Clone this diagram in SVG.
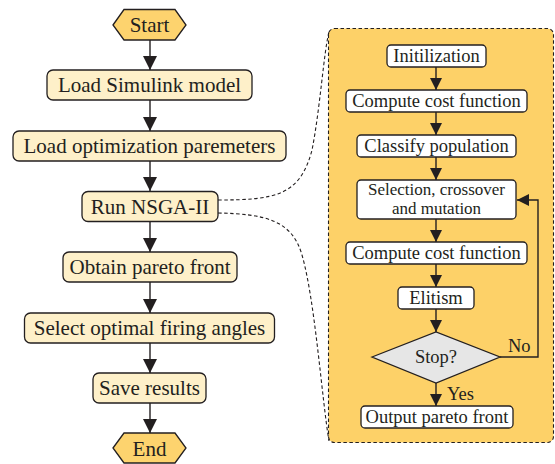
<svg xmlns="http://www.w3.org/2000/svg" width="555" height="464" viewBox="0 0 555 464">
<defs>
<style>
.box{fill:#FEF0C9;stroke:#231F20;stroke-width:1.3}
.wbox{fill:#FFFFFF;stroke:#231F20;stroke-width:1.3}
.hex{fill:#FDD36E;stroke:#231F20;stroke-width:1.3}
.t{font-family:"Liberation Serif","Times New Roman",serif;font-size:21px;fill:#231F20;text-anchor:middle}
.s{font-family:"Liberation Serif","Times New Roman",serif;font-size:18.5px;fill:#231F20;text-anchor:middle}
.s2{font-family:"Liberation Serif","Times New Roman",serif;font-size:17px;fill:#231F20;text-anchor:middle}
.l{font-family:"Liberation Serif","Times New Roman",serif;font-size:18.5px;fill:#231F20}
.ln{stroke:#231F20;stroke-width:1.4;fill:none}
.dash{stroke:#231F20;stroke-width:1.1;fill:none;stroke-dasharray:3.5 2.5}
.panel{fill:#FDD168;stroke:#231F20;stroke-width:1.1;stroke-dasharray:3.5 2.5}
</style>
<marker id="ah" viewBox="0 0 14 14" refX="14" refY="7" markerWidth="14" markerHeight="14" markerUnits="userSpaceOnUse" orient="auto">
<path d="M0,0 L14,7 L0,14 Z" fill="#231F20"/>
</marker>
<marker id="ahs" viewBox="0 0 12 12" refX="12" refY="6" markerWidth="12" markerHeight="12" markerUnits="userSpaceOnUse" orient="auto">
<path d="M0,0 L12,6 L0,12 Z" fill="#231F20"/>
</marker>
</defs>
<rect width="555" height="464" fill="#FFFFFF"/>

<g id="panel">
<rect class="panel" x="328.5" y="28.5" width="225" height="414" rx="6"/>
</g>

<g id="connectors">
<line class="ln" x1="150" y1="40" x2="150" y2="70" marker-end="url(#ah)"/>
<line class="ln" x1="150" y1="100" x2="150" y2="131" marker-end="url(#ah)"/>
<line class="ln" x1="150" y1="161" x2="150" y2="191" marker-end="url(#ah)"/>
<line class="ln" x1="150" y1="222" x2="150" y2="252" marker-end="url(#ah)"/>
<line class="ln" x1="150" y1="282" x2="150" y2="313" marker-end="url(#ah)"/>
<line class="ln" x1="150" y1="343" x2="150" y2="373" marker-end="url(#ah)"/>
<line class="ln" x1="150" y1="403" x2="150" y2="433" marker-end="url(#ah)"/>

<line class="ln" x1="436" y1="67" x2="436" y2="90" marker-end="url(#ahs)"/>
<line class="ln" x1="436" y1="112" x2="436" y2="135" marker-end="url(#ahs)"/>
<line class="ln" x1="436" y1="157" x2="436" y2="180" marker-end="url(#ahs)"/>
<line class="ln" x1="436" y1="219" x2="436" y2="242" marker-end="url(#ahs)"/>
<line class="ln" x1="436" y1="264" x2="436" y2="287" marker-end="url(#ahs)"/>
<line class="ln" x1="436" y1="309" x2="436" y2="332" marker-end="url(#ahs)"/>
<line class="ln" x1="436" y1="383" x2="436" y2="406" marker-end="url(#ahs)"/>
<polyline class="ln" points="500,357 538,357 538,200 517,200" marker-end="url(#ahs)"/>

<path class="dash" d="M218,200 C275,200 300,196 312,150 C320,110 324,50 329,32"/>
<path class="dash" d="M218,213 C265,214 292,220 302,255 C315,300 322,400 329,441"/>
</g>

<g id="start">
<polygon class="hex" points="113,25 124,9.5 175,9.5 186,25 175,40 124,40"/>
<text class="t" x="149.5" y="32">Start</text>
</g>
<g id="load-simulink">
<rect class="box" x="47" y="70" width="205" height="30" rx="6"/>
<text class="t" x="149.5" y="92">Load Simulink model</text>
</g>
<g id="load-params">
<rect class="box" x="13" y="131" width="273" height="30" rx="6"/>
<text class="t" x="149.5" y="153">Load optimization paremeters</text>
</g>
<g id="run-nsga">
<rect class="box" x="82" y="191.5" width="136" height="30" rx="6"/>
<text class="t" x="150" y="213.5">Run NSGA-II</text>
</g>
<g id="obtain-pareto">
<rect class="box" x="63" y="252" width="174" height="30" rx="6"/>
<text class="t" x="150" y="274">Obtain pareto front</text>
</g>
<g id="select-angles">
<rect class="box" x="24.5" y="313" width="250" height="30" rx="6"/>
<text class="t" x="149.5" y="335">Select optimal firing angles</text>
</g>
<g id="save-results">
<rect class="box" x="93" y="373" width="113" height="30" rx="6"/>
<text class="t" x="149.5" y="395">Save results</text>
</g>
<g id="end">
<polygon class="hex" points="113,448 124,433 175,433 186,448 175,463 124,463"/>
<text class="t" x="149.5" y="455.5">End</text>
</g>

<g id="initilization">
<rect class="wbox" x="387" y="45" width="99" height="22" rx="4"/>
<text class="s" x="436.5" y="62">Initilization</text>
</g>
<g id="compute-cost-1">
<rect class="wbox" x="346" y="90" width="181" height="22" rx="4"/>
<text class="s" x="436.5" y="107">Compute cost function</text>
</g>
<g id="classify">
<rect class="wbox" x="357" y="135" width="159" height="22" rx="4"/>
<text class="s" x="436.5" y="152">Classify population</text>
</g>
<g id="selection">
<rect class="wbox" x="357" y="180" width="159" height="39" rx="4"/>
<text class="s2" x="436.5" y="195">Selection, crossover</text>
<text class="s2" x="436.5" y="214">and mutation</text>
</g>
<g id="compute-cost-2">
<rect class="wbox" x="346" y="242" width="181" height="22" rx="4"/>
<text class="s" x="436.5" y="259">Compute cost function</text>
</g>
<g id="elitism">
<rect class="wbox" x="398" y="287" width="76" height="22" rx="4"/>
<text class="s" x="436" y="304">Elitism</text>
</g>
<g id="stop">
<polygon points="372,357 436,332 500,357 436,383" fill="#E6E6E6" stroke="#231F20" stroke-width="1.3"/>
<text class="s" x="436" y="363">Stop?</text>
</g>
<g id="output-pareto">
<rect class="wbox" x="361" y="406" width="152" height="22" rx="4"/>
<text class="s" x="437" y="423">Output pareto front</text>
</g>
<g id="labels">
<text class="l" x="447" y="400">Yes</text>
<text class="l" x="508" y="352">No</text>
</g>
</svg>
